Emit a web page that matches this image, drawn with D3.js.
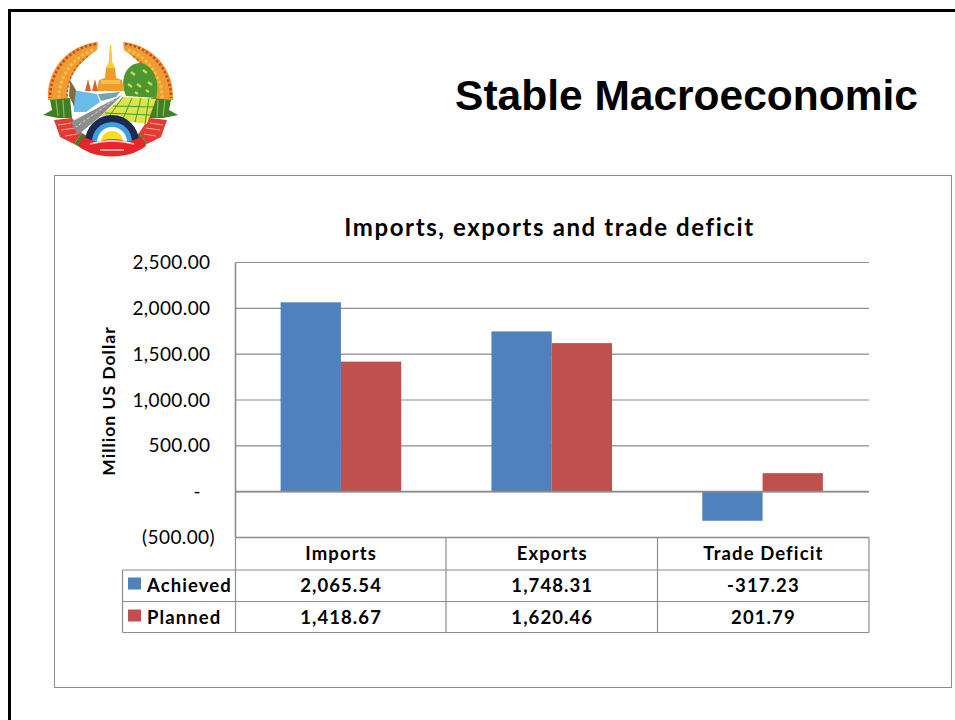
<!DOCTYPE html>
<html><head><meta charset="utf-8">
<script src="https://d3js.org/d3.v7.min.js"></script>
<style>html,body{margin:0;padding:0;background:#fff}svg{display:block}text{font-family:Lato,Carlito,sans-serif;fill:#000}</style>
</head><body><div id="c"></div>
<script>
const categories = ["Imports","Exports","Trade Deficit"];
const seriesNames = ["Achieved","Planned"];
const achieved = [2065.54,1748.31,-317.23];
const planned = [1418.67,1620.46,201.79];
const achievedLabels = ["2,065.54","1,748.31","-317.23"];
const plannedLabels = ["1,418.67","1,620.46","201.79"];
const yTicks = [2500,2000,1500,1000,500,0,-500];
const yTickLabels = ["2,500.00","2,000.00","1,500.00","1,000.00","500.00","-","(500.00)"];
const colors = ["#4f81bd","#c0504d"];
const grey = "#8c8c8c";

const svg = d3.select("#c").append("svg").attr("width",955).attr("height",720);
svg.append("rect").attr("width",955).attr("height",720).attr("fill","#fff");
// slide frame
svg.append("path").attr("d","M9.5,720V10.5H955").attr("fill","none").attr("stroke","#000").attr("stroke-width",3);

// slide title
svg.append("text").attr("x",686.5).attr("y",110).attr("text-anchor","middle")
  .style("font-family","'Liberation Sans',Arial,sans-serif").style("font-weight",700).style("font-size","42.5px")
  .text("Stable Macroeconomic");

// emblem (decorative)
const defs = svg.append("defs");
defs.append("filter").attr("id","soft").append("feGaussianBlur").attr("stdDeviation",0.55);
const e = svg.append("g").attr("filter","url(#soft)");
const part=(d,fill,extra)=>{const p=e.append("path").attr("d",d).attr("fill",fill);if(extra)Object.entries(extra).forEach(([k,v])=>p.attr(k,v));return p;};
[0,1].forEach(s=>{
  const w=e.append("g").attr("transform",s?"translate(221,0) scale(-1,1)":null);
  const wp=(d,fill,extra)=>{const p=w.append("path").attr("d",d).attr("fill",fill);if(extra)Object.entries(extra).forEach(([k,v])=>p.attr(k,v));};
  wp("M98,42 C72,44 46,66 48,100 L68,100 C66,82 74,66 97,50 Z","#ee9a35");
  wp("M96,44 C72,47 50,68 50,98","none",{stroke:"#c9481b","stroke-width":2.5,"stroke-dasharray":"2.5 2"});
  wp("M93,50 C74,57 59,75 59,98","none",{stroke:"#f6c23c","stroke-width":3,"stroke-dasharray":"3 2"});
  wp("M88,56 C74,66 67,80 67,98","none",{stroke:"#cf5a1c","stroke-width":1.5,"stroke-dasharray":"2.5 2"});
  wp("M50,100 L70,98 L72,118 L58,118 L43,115 L52,110 Z","#3f7f25");
  wp("M56,100 L58,116 M63,100 L64,117","none",{stroke:"#8fbf50","stroke-width":1.2});
  wp("M54,120 L72,118 L82,133 L74,144 L60,137 Z","#e33a33");
  wp("M58,125 L71,123 M61,130 L75,128 M65,136 L77,134","none",{stroke:"#f5a898","stroke-width":1.2});
  wp("M74,144 L82,133 L90,138 L82,148 Z","#3f7f25");
});
// river and waterfall
part("M72,90 L97,94 L100,102 L86,112 L74,112 Z","#69bde8");
part("M70,80 L76,90 L74,106 L69,96 Z","#8a6a3a");
part("M98,94 L120,92 L116,97 L101,101 Z","#6fa9a8");
// field
part("M101,116 L123,97 L156,99 L147,124 L118,120 Z","#dfe24a");
part("M123,97 L108,118 M132,98 L122,121 M141,98 L135,122 M149,98 L145,124 M113,106 L153,107 M105,113 L150,115","none",{stroke:"#3f9a32","stroke-width":1});
// road
part("M122,95 L71,122 L78,135 L103,114 Z","#8d8d8d");
part("M118,97 L76,127","none",{stroke:"#d8d8d8","stroke-width":1,"stroke-dasharray":"3 2"});
// tree
part("M126,96 C118,78 128,62 141,63 C155,66 160,84 156,98 Z","#4d9630");
part("M131,72 l4,3 M143,70 l4,3 M128,84 l4,3 M148,82 l4,3 M137,84 l4,3 M135,92 l3,2 M146,90 l3,2","none",{stroke:"#c4dc52","stroke-width":2.2});
// temple
part("M97,91 L99,80 L105,78 L106,68 L109,62 L110,46 L111,45 L112,62 L115,68 L116,78 L122,80 L124,91 Z","#ef9c2c");
part("M106,68 L109,62 L110.5,45 L112,62 L115,68 Z","#f7cf3a");
part("M101,80 H120 V84 H101 Z","#f7c04a");
part("M85,91 L88,79 L91,91 Z M92,91 L95,79 L98,91 Z","#d8622a");
// gear and rainbow
const gearArc=d3.arc();
const half=(r,fill)=>e.append("path").attr("transform","translate(112,142)")
  .attr("d",gearArc({innerRadius:0,outerRadius:r,startAngle:-Math.PI/2,endAngle:Math.PI/2})).attr("fill",fill);
half(27,"#1c2a4f");half(20,"#3c9fe0");half(15,"#ffffff");half(11,"#f5df1e");
// bottom ribbon
part("M83,137 L97,142 C108,138 118,138 128,142 L142,137 L146,146 C128,160 96,160 78,146 Z","#e8272a");
part("M90,144 C104,140 120,140 134,144 M100,150 H124","none",{stroke:"#f7d9d2","stroke-width":1.6});

// chart box
svg.append("rect").attr("x",54.5).attr("y",175.5).attr("width",897).attr("height",512)
  .attr("fill","#fff").attr("stroke",grey).attr("stroke-width",1);
svg.append("text").attr("x",549.5).attr("y",236).attr("text-anchor","middle")
  .style("font-weight",700).style("font-size","24px").style("letter-spacing","1.6px").text("Imports, exports and trade deficit");

const L=235.5,R=869,T=262.5,B=537.5;
const x=d3.scaleBand().domain(categories).range([L,R-1]).paddingInner(0.428).paddingOuter(0.214);
const xCol=d3.scaleBand().domain(categories).range([L,R]);
const x1=d3.scaleBand().domain(seriesNames).range([0,x.bandwidth()]);
const y=d3.scaleLinear().domain([-500,2500]).range([B,T]);

// gridlines
svg.append("g").selectAll("line").data(yTicks).join("line")
  .attr("x1",L).attr("x2",R).attr("y1",d=>y(d)).attr("y2",d=>y(d))
  .attr("stroke",grey).attr("stroke-width",1.2);

// bars
const values=[achieved,planned];
seriesNames.forEach((s,i)=>{
  svg.append("g").selectAll("rect").data(values[i]).join("rect")
    .attr("x",(d,j)=>x(categories[j])+x1(s))
    .attr("width",x1.bandwidth())
    .attr("y",d=>Math.min(y(d),y(0)))
    .attr("height",d=>Math.abs(y(d)-y(0)))
    .attr("fill",colors[i]);
});
svg.append("line").attr("x1",L).attr("x2",R).attr("y1",y(0)).attr("y2",y(0)).attr("stroke",grey).attr("stroke-width",1.6);
svg.append("line").attr("x1",L).attr("x2",L).attr("y1",T).attr("y2",B).attr("stroke",grey).attr("stroke-width",1.6);

// y axis labels: accounting format, so positives stop short of the closing bracket
svg.append("g").selectAll("text").data(yTicks).join("text")
  .attr("x",d=>d<0?215:(d===0?201:210.5)).attr("y",d=>y(d)+6.5).attr("text-anchor","end")
  .style("font-size","19px").style("letter-spacing","0.4px").text((d,i)=>yTickLabels[i]);
svg.append("text").attr("transform","translate(115,401) rotate(-90)").attr("text-anchor","middle")
  .style("font-weight",700).style("font-size","17.5px").style("letter-spacing","1px").text("Million US Dollar");

// data table
const rowTop=[537.5,570,601.5,632.5];
const tbl=svg.append("g").attr("stroke",grey).attr("stroke-width",1.2);
tbl.append("line").attr("x1",L).attr("x2",R).attr("y1",rowTop[0]).attr("y2",rowTop[0]).attr("stroke-width",1.6);
rowTop.slice(1).forEach(v=>tbl.append("line").attr("x1",122.5).attr("x2",R).attr("y1",v).attr("y2",v));
[L,L+210.5,L+422,R].forEach(v=>tbl.append("line").attr("x1",v).attr("x2",v).attr("y1",rowTop[0]).attr("y2",rowTop[3]));
tbl.append("line").attr("x1",122.5).attr("x2",122.5).attr("y1",rowTop[1]).attr("y2",rowTop[3]);

const cell=(cx,cy,t,a)=>svg.append("text").attr("x",cx).attr("y",cy).attr("text-anchor",a||"middle")
  .style("font-weight",700).style("font-size","18.5px").style("letter-spacing","1.1px").text(t);
categories.forEach((c,i)=>{
  const cx=xCol(c)+xCol.bandwidth()/2;
  cell(cx,560,c);
  cell(cx,592,achievedLabels[i]);
  cell(cx,623.5,plannedLabels[i]);
});
seriesNames.forEach((s,i)=>{
  const base=[577.5,609.5][i];
  svg.append("rect").attr("x",128).attr("y",base).attr("width",13).attr("height",12).attr("fill",colors[i]);
  cell(147,[592,623.5][i],s,"start");
});
</script></body></html>
